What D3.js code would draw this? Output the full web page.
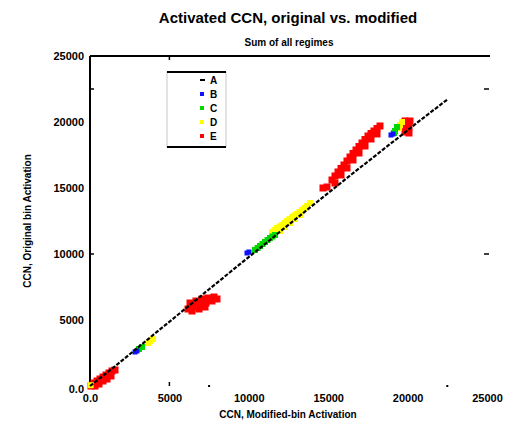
<!DOCTYPE html>
<html>
<head>
<meta charset="utf-8">
<script src="https://cdn.jsdelivr.net/npm/d3@7"></script>
<style>
  body { margin: 0; background: #fff; }
  svg { display: block; }
  text { font-family: "Liberation Sans", Arial, sans-serif; font-weight: bold; fill: #000; }
</style>
</head>
<body>
<svg id="chart" width="514" height="427"></svg>
<script>
// ---- data -------------------------------------------------------------
const seriesNames  = ["A", "B", "C", "D", "E"];
const seriesColors = ["#000000", "#1010ff", "#00d800", "#ffff00", "#ff0000"];

// A: reference curve (drawn as a dashed black line)
const aX = [0, 1500, 3000, 4500, 6000, 7500, 9000, 10500, 12000, 13500, 15000, 16500, 18000, 19500, 21000, 22500];
const aY = [0, 1420, 2900, 4380, 5850, 7330, 8800, 10250, 11720, 13180, 14620, 16060, 17480, 18900, 20320, 21700];

// B (blue)
const bX = [2834, 2960, 9886, 10012, 18954, 19080];
const bY = [2576, 2652, 10076, 10152, 19015, 19091];

// C (green)
const cX = [3086, 3274, 10390, 10550, 10705, 10860, 11020, 11180, 11335, 11490, 11650, 19143, 19206, 19332];
const cY = [2803, 2955, 10303, 10455, 10606, 10758, 10909, 11060, 11212, 11325, 11439, 19167, 19318, 19621];

// D (yellow)
const dX = [40, 3652, 3778, 3967, 11461, 11620, 11776, 11930, 12090, 12250, 12405, 12560, 12720, 12880,
            13035, 13190, 13350, 13510, 13665, 13854,
            11650, 11965, 12280, 12595, 12910, 13225, 19458, 19521, 19647];
const dY = [60, 3258, 3409, 3561, 11667, 11820, 11970, 12085, 12197, 12350, 12500, 12650, 12803, 12915,
            13030, 13180, 13333, 13485, 13636, 13864,
            11440, 11743, 12046, 12349, 12652, 12955, 19545, 19773, 20000];

// E (red)
const eX = [63, 252, 441, 630, 819, 1008, 1196, 1385, 1574, 315, 567, 819, 1071, 1322,
            6297, 6675, 7053, 7430, 7808, 6171, 6549, 6927, 7305, 7682, 7997, 6423, 6864, 7241,
            6486, 6864, 7241, 7619,
            14672, 14924,
            15239, 15428, 15617, 15806, 15994, 16183, 16372, 16561, 16750, 16939, 17128, 17317,
            17506, 17695, 17883, 18072, 18261,
            15428, 15806, 16183, 16561, 16939, 17317, 17695, 18072,
            19836, 20150, 19899, 20087, 19836, 20087];
const eY = [0, 227, 379, 530, 682, 833, 985, 1136, 1212, 0, 152, 379, 530, 758,
            6288, 6439, 6591, 6667, 6742, 5833, 5985, 6136, 6288, 6439, 6591, 5682, 5833, 5985,
            6060, 6212, 6364, 6515,
            15000, 15076,
            15606, 15910, 16213, 16478, 16743, 17046, 17349, 17614, 17879, 18144, 18410, 18675,
            18940, 19130, 19319, 19508, 19698,
            15379, 15986, 16516, 17122, 17652, 18183, 18713, 19092,
            20076, 20076, 19621, 19621, 19242, 19167];

const tickValues = [0, 5000, 10000, 15000, 20000, 25000];
const tickLabels = ["0.0", "5000", "10000", "15000", "20000", "25000"];

// sparse tick marks on the frame
const bottomTicks = [5000];
const bottomDots  = [7500, 22500];
const topTicks    = [5000];
const sideTicks   = [10000, 22500];

const titleText    = "Activated CCN, original vs. modified";
const subtitleText = "Sum of all regimes";
const xLabelText   = "CCN, Modified-bin Activation";
const yLabelText   = "CCN, Original bin Activation";

// ---- drawing ----------------------------------------------------------
const svg = d3.select("#chart");
const x = d3.scaleLinear().domain([0, 25000]).range([90, 487]);
const y = d3.scaleLinear().domain([0, 25000]).range([386, 56]);

// titles
svg.append("text").attr("x", 288).attr("y", 23).attr("text-anchor", "middle")
  .style("font-size", "15px").text(titleText);
svg.append("text").attr("x", 289).attr("y", 46).attr("text-anchor", "middle")
  .style("font-size", "10px").text(subtitleText);

// tick labels via d3 axes (no domain path, zero-length ticks)
const fmt = d => tickLabels[tickValues.indexOf(d)];
const gy = svg.append("g").attr("transform", `translate(${x(0)},0)`)
  .call(d3.axisLeft(y).tickValues(tickValues).tickFormat(fmt).tickSize(0).tickPadding(6));
const gx = svg.append("g").attr("transform", `translate(0,${y(0)})`)
  .call(d3.axisBottom(x).tickValues(tickValues).tickFormat(fmt).tickSize(0).tickPadding(8));
[gx, gy].forEach(g => {
  g.select(".domain").remove();
  g.selectAll("text").style("font-size", "11px").attr("fill", "#000");
  g.attr("font-family", null);
});
gy.select(".tick text").attr("dy", "0.55em");   // "0.0" sits slightly low

// frame: left and top lines
svg.append("line").attr("x1", x(0)).attr("x2", x(0)).attr("y1", y(25000)).attr("y2", y(0))
  .attr("stroke", "#000").attr("stroke-width", 2);
svg.append("line").attr("x1", x(0)).attr("x2", x(25000) + 3).attr("y1", y(25000)).attr("y2", y(25000))
  .attr("stroke", "#000").attr("stroke-width", 2);

// scattered tick marks
const tk = svg.append("g").attr("stroke", "#000").attr("stroke-width", 1.5);
tk.selectAll(".bt").data(bottomTicks).join("line")
  .attr("x1", d => x(d)).attr("x2", d => x(d)).attr("y1", y(0) - 4).attr("y2", y(0));
tk.selectAll(".tt").data(topTicks).join("line")
  .attr("x1", d => x(d)).attr("x2", d => x(d)).attr("y1", y(25000)).attr("y2", y(25000) + 4);
tk.selectAll(".lt").data(sideTicks).join("line")
  .attr("x1", x(0)).attr("x2", x(0) + 4).attr("y1", d => y(d)).attr("y2", d => y(d));
tk.selectAll(".rt").data(sideTicks).join("line")
  .attr("x1", x(25000) - 3).attr("x2", x(25000) + 2).attr("y1", d => y(d)).attr("y2", d => y(d));
svg.selectAll(".bd").data(bottomDots).join("rect")
  .attr("x", d => x(d) - 1).attr("y", y(0) - 1).attr("width", 2).attr("height", 2).attr("fill", "#000");

// colored series as square markers
const pts = (xs, ys) => xs.map((v, i) => [v, ys[i]]);
const series = [
  { pts: pts(bX, bY), color: seriesColors[1], size: 5 },
  { pts: pts(cX, cY), color: seriesColors[2], size: 6 },
  { pts: pts(dX, dY), color: seriesColors[3], size: 6 },
  { pts: pts(eX, eY), color: seriesColors[4], size: 7 }
];
series.slice().reverse().forEach(s => {
  svg.append("g").selectAll("rect").data(s.pts).join("rect")
    .attr("x", d => x(d[0]) - s.size / 2).attr("y", d => y(d[1]) - s.size / 2)
    .attr("width", s.size).attr("height", s.size).attr("fill", s.color);
});

// series A: dashed black line
svg.append("path").datum(pts(aX, aY))
  .attr("d", d3.line().x(d => x(d[0])).y(d => y(d[1])))
  .attr("fill", "none").attr("stroke", "#000").attr("stroke-width", 2.2)
  .attr("stroke-dasharray", "4,1.6");

// axis titles
svg.append("text").attr("x", 288).attr("y", 418).attr("text-anchor", "middle")
  .style("font-size", "10px").text(xLabelText);
svg.append("text").attr("transform", `translate(31,221) rotate(-90)`).attr("text-anchor", "middle")
  .style("font-size", "10px").text(yLabelText);

// legend
const lg = svg.append("g");
lg.append("rect").attr("x", 167).attr("y", 72).attr("width", 59).attr("height", 75)
  .attr("fill", "#fff").attr("stroke", "#c8c8c8").attr("stroke-width", 1);
[72, 147].forEach(yy => lg.append("line").attr("x1", 167).attr("x2", 226).attr("y1", yy).attr("y2", yy)
  .attr("stroke", "#000").attr("stroke-width", 2));
seriesNames.forEach((n, i) => {
  const yy = 80 + i * 14;
  if (i === 0) {
    lg.append("line").attr("x1", 200).attr("x2", 205).attr("y1", yy).attr("y2", yy)
      .attr("stroke", "#000").attr("stroke-width", 2);
  } else {
    lg.append("rect").attr("x", 200).attr("y", yy - 2).attr("width", 4).attr("height", 4)
      .attr("fill", seriesColors[i]);
  }
  lg.append("text").attr("x", 210).attr("y", yy + 4).style("font-size", "10px").text(n);
});
</script>
</body>
</html>
